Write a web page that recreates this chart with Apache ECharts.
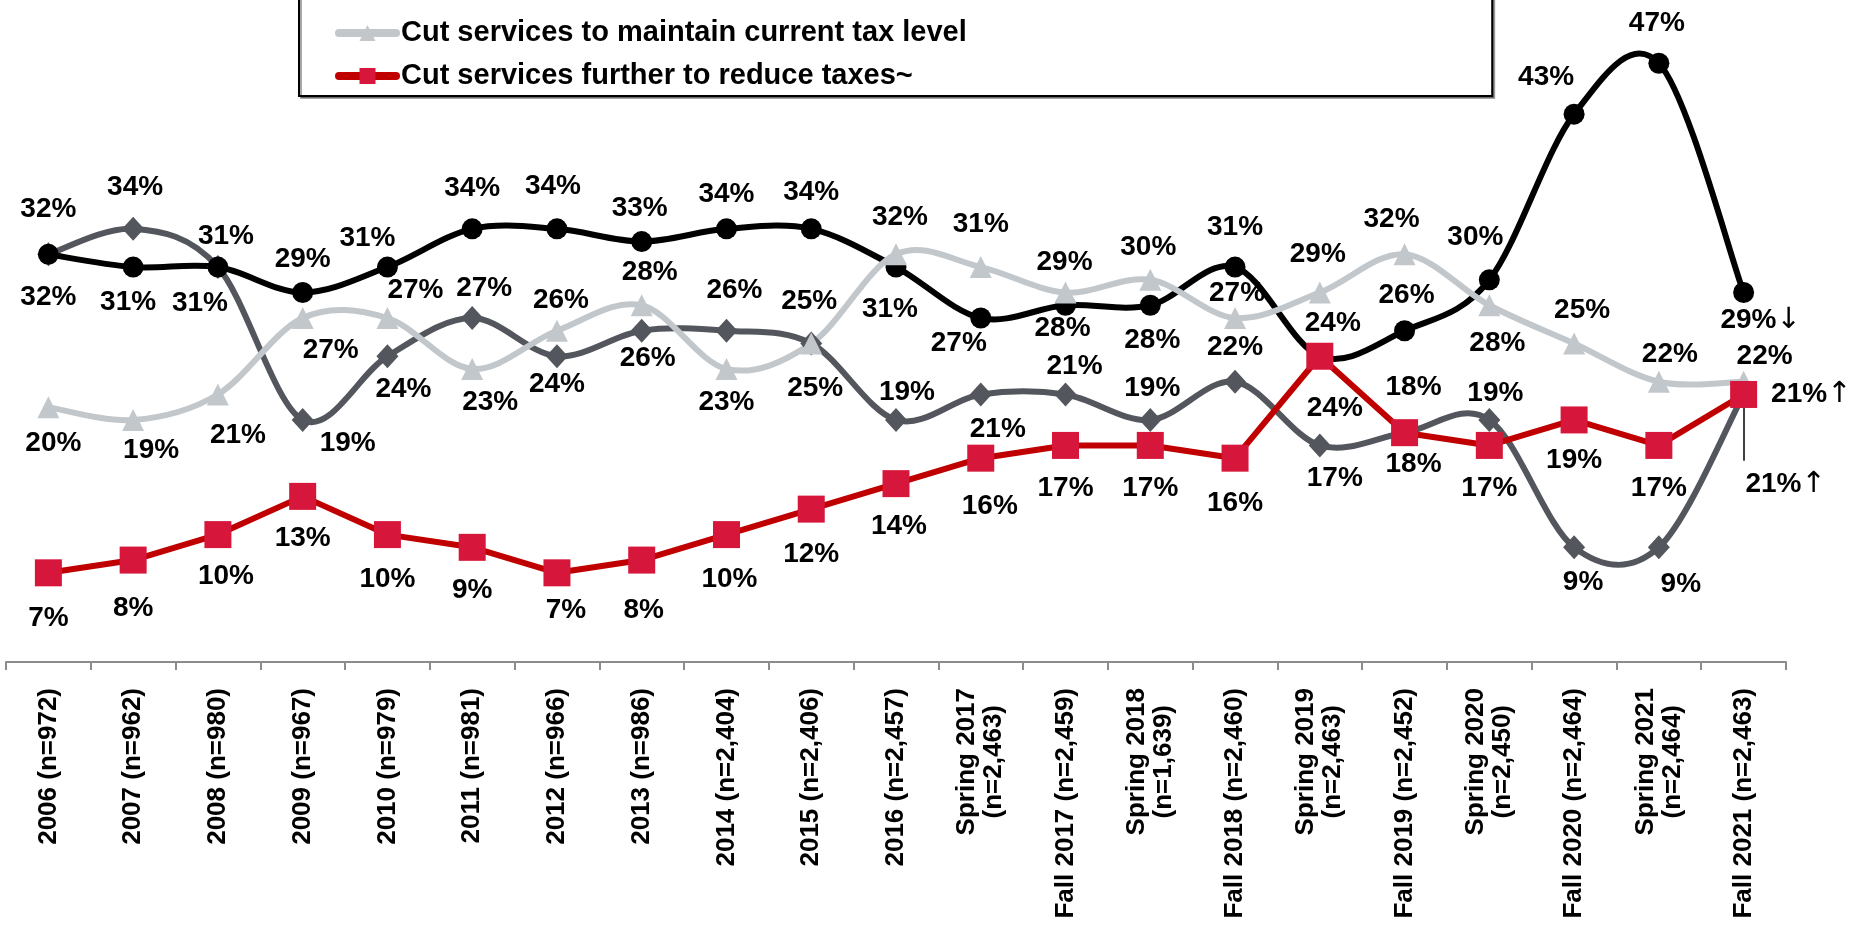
<!DOCTYPE html>
<html>
<head>
<meta charset="utf-8">
<script src="https://cdn.jsdelivr.net/npm/echarts@6/dist/echarts.min.js"></script>
<style>
html,body{margin:0;padding:0;background:#fff;}
#chart{width:1864px;height:927px;}
</style>
</head>
<body>
<div id="chart"></div>
<script>
// ---- Data ----
const categories = [
  '2006 (n=972)', '2007 (n=962)', '2008 (n=980)', '2009 (n=967)', '2010 (n=979)',
  '2011 (n=981)', '2012 (n=966)', '2013 (n=986)', '2014 (n=2,404)', '2015 (n=2,406)',
  '2016 (n=2,457)', 'Spring 2017\n(n=2,463)', 'Fall 2017 (n=2,459)', 'Spring 2018\n(n=1,639)',
  'Fall 2018 (n=2,460)', 'Spring 2019\n(n=2,463)', 'Fall 2019 (n=2,452)', 'Spring 2020\n(n=2,450)',
  'Fall 2020 (n=2,464)', 'Spring 2021\n(n=2,464)', 'Fall 2021 (n=2,463)'
];
const nameIncreaseMaintain = 'Increase taxes at current inflation rate to maintain services at current levels';
const nameCutMaintain = 'Cut services to maintain current tax level';
const nameCutReduce = 'Cut services further to reduce taxes~';
const nameOther = 'Increase taxes to expand services';

const increaseMaintain = [32,31,31,29,31,34,34,33,34,34,31,27,28,28,31,24,26,30,43,47,29];
const cutMaintain      = [20,19,21,27,27,23,26,28,23,25,32,31,29,30,27,29,32,28,25,22,22];
const cutReduce        = [7,8,10,13,10,9,7,8,10,12,14,16,17,17,16,24,18,17,19,17,21];
const otherResponse    = [32,34,31,19,24,27,24,26,26,25,19,21,21,19,22,17,18,19,9,9,21];

// change markers on the latest wave
const latestChange = { [nameIncreaseMaintain]: '↓', [nameCutReduce]: '↑', [nameOther]: '↑' };

// ---- Label placement (px offsets from the marker centre) ----
const offIncrease = [[0,-45],[-5,35],[-18,36],[0,-33],[-20,-29],[0,-41],[-4,-43],[-2,-33],[0,-35],[0,-37],[-6,42],[-22,25],[-3,23],[2,35],[0,-40],[13,-33],[2,-35],[-14,-43],[-28,-37],[-2,-40],[17,28]];
const offCutMaintain = [[5,36],[18,30],[20,41],[28,32],[28,-28],[18,33],[4,-30],[8,-33],[0,33],[-2,-42],[4,-37],[0,-43],[-1,-30],[-2,-33],[2,-25],[-2,-38],[-13,-35],[8,38],[8,-33],[11,-27],[21,-25]];
const offOther = [[0,43],[2,-42],[8,-31],[45,23],[16,33],[12,-30],[0,28],[6,28],[8,-40],[4,45],[11,-28],[17,35],[9,-28],[2,-32],[0,-34],[15,33],[9,-45],[6,-27],[9,35],[22,37],[42,90]];
const offCutReduce = [[0,45],[0,48],[8,42],[0,42],[0,45],[0,43],[9,37],[2,50],[3,45],[0,45],[3,43],[9,48],[0,43],[0,43],[0,45],[15,52],[9,32],[0,43],[0,40],[0,43],'right'];

const FONT = '"Liberation Sans", Arial, Helvetica, sans-serif';
const last = categories.length - 1;
const LINE_W = 6;

function labelled(values, offs) {
  return values.map((v, i) => ({
    value: v,
    label: offs[i] === 'right' ? { position: 'right', distance: 14, offset: [0, 0] } : { offset: offs[i] }
  }));
}

function makeSeries(name, values, offs, o) {
  return Object.assign({
    name: name,
    type: 'line',
    data: labelled(values, offs),
    showAllSymbol: true,
    lineStyle: { width: LINE_W, color: o.color, opacity: o.hideLine ? 0 : 1 },
    itemStyle: { color: o.markerColor || o.color },
    label: {
      show: true,
      position: 'inside',
      color: '#000',
      fontFamily: FONT,
      fontWeight: 'bold',
      fontSize: 28,
      formatter: p => '{v|' + p.value + '%}' + (p.dataIndex === last && latestChange[name] ? '{a|' + latestChange[name] + '}' : ''),
      rich: {
        v: { fontFamily: FONT, fontWeight: 'bold', fontSize: 28, color: '#000' },
        a: { fontFamily: '"DejaVu Sans", sans-serif', fontWeight: 'normal', fontSize: 29, color: '#000' }
      }
    },
    emphasis: { disabled: true }
  }, o.extra);
}

// Excel-style smoothed curve drawn through the category/value scales
function curveSeries(values, color, z) {
  const n = values.length;
  const idx = k => Math.max(0, Math.min(n - 1, k));
  return {
    type: 'custom',
    name: '_curve_' + color,
    silent: true,
    z: z,
    data: values.map((v, i) => [i, v]),
    encode: { x: 0, y: 1 },
    renderItem: (params, api) => {
      const i = params.dataIndex;
      if (i >= n - 1) return null;
      const P = k => api.coord([idx(k), values[idx(k)]]);
      const p0 = P(i - 1), p1 = P(i), p2 = P(i + 1), p3 = P(i + 2);
      const t = 1 / 6;
      return {
        type: 'bezierCurve',
        shape: {
          x1: p1[0], y1: p1[1], x2: p2[0], y2: p2[1],
          cpx1: p1[0] + (p2[0] - p0[0]) * t, cpy1: p1[1] + (p2[1] - p0[1]) * t,
          cpx2: p2[0] - (p3[0] - p1[0]) * t, cpy2: p2[1] - (p3[1] - p1[1]) * t
        },
        style: { stroke: color, lineWidth: LINE_W, fill: null, lineCap: 'round' }
      };
    }
  };
}

const COL_OTHER = '#53565c', COL_INC = '#000000', COL_CUT = '#c2c7cc';

const series = [
  curveSeries(otherResponse, COL_OTHER, 1),
  curveSeries(increaseMaintain, COL_INC, 1),
  curveSeries(cutMaintain, COL_CUT, 1),
  makeSeries(nameOther, otherResponse, offOther, {
    color: COL_OTHER, hideLine: true,
    extra: {
      symbol: 'diamond', symbolSize: [22, 24], z: 2,
      markLine: {
        silent: true, symbol: 'none', label: { show: false },
        lineStyle: { color: '#000', width: 1.5, type: 'solid' },
        data: [[{ coord: [last, otherResponse[last]] }, { coord: [last, otherResponse[last] - 5.2] }]]
      }
    }
  }),
  makeSeries(nameIncreaseMaintain, increaseMaintain, offIncrease, {
    color: COL_INC, hideLine: true,
    extra: { symbol: 'circle', symbolSize: 21, z: 3 }
  }),
  makeSeries(nameCutMaintain, cutMaintain, offCutMaintain, {
    color: COL_CUT, hideLine: true,
    extra: { symbol: 'triangle', symbolSize: 22, z: 4 }
  }),
  makeSeries(nameCutReduce, cutReduce, offCutReduce, {
    color: '#c00000', markerColor: '#d6173b',
    extra: { symbol: 'rect', symbolSize: 27, smooth: false, z: 5 }
  })
];

const chart = echarts.init(document.getElementById('chart'), null, { renderer: 'canvas' });
chart.setOption({
  animation: false,
  backgroundColor: '#ffffff',
  legend: {
    data: [nameIncreaseMaintain, nameCutMaintain, nameCutReduce],
    orient: 'vertical',
    left: 299,
    top: -35,
    padding: [10, 50, 5, 36],
    itemGap: 13,
    itemWidth: 57,
    itemHeight: 20,
    borderColor: '#000',
    borderWidth: 2,
    backgroundColor: '#fff',
    shadowColor: 'rgba(0,0,0,0.35)',
    shadowOffsetX: 2,
    shadowOffsetY: 2,
    shadowBlur: 0,
    lineStyle: { width: 8, opacity: 1, cap: 'round' },
    textStyle: { fontFamily: FONT, fontWeight: 'bold', fontSize: 29, lineHeight: 30, color: '#000' }
  },
  grid: { left: 6, right: 78, top: 25, bottom: 265, containLabel: false },
  xAxis: {
    type: 'category',
    data: categories,
    boundaryGap: true,
    axisLine: { show: true, lineStyle: { color: '#8c8c8c', width: 2 } },
    axisTick: { show: true, length: 8, lineStyle: { color: '#8c8c8c', width: 2 } },
    axisLabel: {
      interval: 0,
      rotate: 90,
      margin: 26,
      color: '#000',
      fontFamily: FONT,
      fontWeight: 'bold',
      fontSize: 26,
      formatter: v => v.split('\n').map(s => '{c|' + s + '}').join('\n'),
      rich: { c: { align: 'center', fontFamily: FONT, fontWeight: 'bold', fontSize: 26, lineHeight: 27, color: '#000' } }
    },
    splitLine: { show: false }
  },
  yAxis: {
    type: 'value',
    min: 0,
    max: 50,
    interval: 10,
    show: false,
    splitLine: { show: false }
  },
  series: series
});
</script>
</body>
</html>
